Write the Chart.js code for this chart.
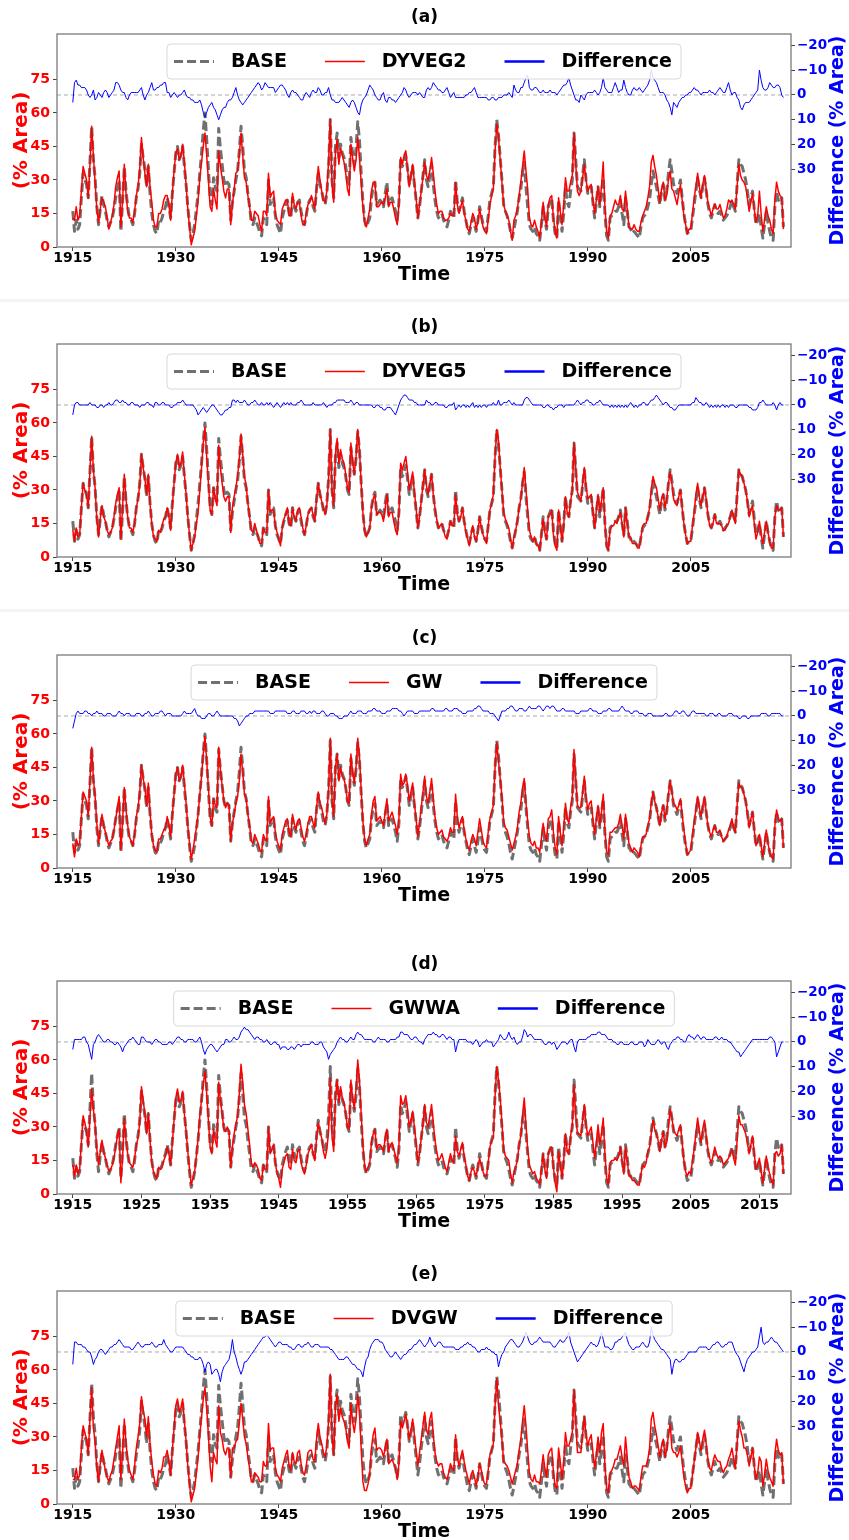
<!DOCTYPE html>
<html>
<head>
<meta charset="utf-8">
<script src="https://cdn.jsdelivr.net/npm/chart.js@4.4.0/dist/chart.umd.min.js"></script>
<style>
  html, body { margin: 0; padding: 0; background: #fff; }
  body { width: 849px; height: 1540px; position: relative; overflow: hidden; }
  .panel { position: absolute; left: 0; width: 849px; height: 290px; }
  .sep { position: absolute; left: 0; width: 849px; height: 3px; background: #f3f3f3; }
</style>
</head>
<body>
<div class="sep" style="top:299px"></div>
<div class="sep" style="top:609px"></div>
<div class="panel" style="top:0px"><canvas id="panel0" width="849" height="290"></canvas></div>
<div class="panel" style="top:310px"><canvas id="panel1" width="849" height="290"></canvas></div>
<div class="panel" style="top:621px"><canvas id="panel2" width="849" height="290"></canvas></div>
<div class="panel" style="top:947px"><canvas id="panel3" width="849" height="290"></canvas></div>
<div class="panel" style="top:1257px"><canvas id="panel4" width="849" height="290"></canvas></div>
<script>
// quarterly samples, first one January 1915
const startYear = 1915;
const perYear = 4;

// drought area of the BASE run (% area)
const base = [
  // 1915
  16, 7, 12, 8, 10, 22, 33, 30, 28, 22, 38, 54, 39, 31, 18, 10,
  // 1919
  17, 23, 19, 16, 12, 9, 11, 13, 17, 22, 26, 30, 7, 20, 36, 25,
  // 1923
  18, 13, 12, 10, 15, 22, 26, 33, 46, 40, 35, 27, 36, 24, 15, 10,
  // 1927
  7, 6, 12, 11, 13, 16, 18, 22, 18, 13, 24, 33, 42, 45, 39, 41,
  // 1931
  45, 36, 28, 18, 10, 3, 6, 10, 17, 24, 33, 42, 52, 60, 48, 35,
  // 1935
  22, 19, 31, 27, 25, 53, 44, 37, 30, 27, 29, 28, 12, 20, 25, 30,
  // 1939
  34, 43, 54, 45, 34, 31, 24, 18, 11, 10, 13, 11, 9, 6, 5, 13,
  // 1943
  11, 10, 30, 19, 21, 22, 14, 10, 8, 6, 13, 16, 19, 21, 15, 13,
  // 1947
  22, 18, 16, 20, 21, 16, 12, 10, 14, 19, 21, 22, 18, 16, 26, 33,
  // 1951
  28, 25, 21, 19, 24, 35, 57, 30, 22, 45, 51, 40, 46, 42, 40, 36,
  // 1955
  30, 28, 49, 42, 37, 44, 56, 48, 33, 20, 12, 9, 11, 13, 22, 27,
  // 1959
  29, 19, 20, 21, 20, 18, 24, 29, 19, 21, 22, 19, 16, 12, 20, 40,
  // 1963
  36, 38, 41, 35, 28, 32, 36, 28, 21, 13, 18, 25, 32, 39, 30, 27,
  // 1967
  32, 37, 28, 21, 16, 13, 14, 15, 12, 10, 9, 12, 16, 14, 13, 30,
  // 1971
  20, 16, 19, 22, 16, 12, 8, 6, 10, 13, 10, 7, 12, 18, 14, 10,
  // 1975
  8, 7, 14, 21, 24, 27, 45, 57, 50, 40, 30, 19, 16, 14, 11, 7,
  // 1979
  4, 8, 12, 16, 22, 26, 33, 38, 27, 18, 10, 8, 7, 9, 6, 5,
  // 1983
  3, 10, 18, 12, 8, 18, 20, 22, 12, 6, 4, 21, 14, 7, 15, 27,
  // 1987
  20, 18, 25, 30, 51, 39, 27, 26, 25, 32, 39, 30, 24, 26, 27, 20,
  // 1991
  13, 20, 27, 18, 24, 31, 15, 5, 3, 13, 14, 15, 16, 16, 18, 21,
  // 1995
  15, 10, 22, 16, 9, 8, 6, 7, 6, 5, 4, 9, 13, 14, 15, 18,
  // 1999
  21, 28, 34, 30, 27, 23, 19, 25, 28, 21, 25, 33, 39, 34, 28, 26,
  // 2003
  24, 27, 30, 22, 15, 10, 6, 7, 7, 13, 19, 25, 31, 26, 22, 27,
  // 2007
  31, 25, 19, 15, 13, 16, 19, 16, 15, 16, 14, 12, 13, 14, 16, 18,
  // 2011
  21, 18, 16, 28, 39, 37, 36, 33, 30, 25, 19, 22, 25, 17, 10, 12,
  // 2015
  15, 9, 4, 10, 16, 11, 7, 4, 3, 18, 25, 21, 20, 22, 9
];

// BASE minus each experiment (% area)
const diffDyveg2 = [
  3, -5, -6, -4, -4, -3, -3, -3, -2, 0, 1, 0, -2, 2, 1, -1,
  0, 1, -1, -2, -1, 1, 0, -1, -2, -5, -5, -4, -2, -1, -1, 1,
  2, 0, -1, -1, -1, -1, -1, -2, -3, 0, 2, 0, -1, -3, -5, -2,
  -2, -3, -3, -4, -4, -5, -5, -1, -1, 1, 0, -1, 0, 1, 0, 0,
  -1, -2, 0, 1, 1, 2, 2, 3, 3, 3, 2, 4, 7, 9, 7, 5,
  4, 3, 5, 6, 8, 10, 8, 6, 5, 5, 3, 2, 2, 1, -1, -3,
  0, 2, 3, 4, 3, 2, 1, 0, -1, -2, -3, -4, -5, -4, -2, -3,
  -5, -4, -3, -3, -3, -3, -1, -2, -3, -4, -4, -3, -2, 0, 1, -1,
  -2, -1, -1, 0, 1, 2, 2, 0, -1, 0, 1, -1, -2, -1, -1, -3,
  -2, 0, 0, -1, -1, -3, 0, 2, 2, 3, 3, 3, 2, 1, 2, 3,
  4, 5, 3, 2, 3, 5, 7, 8, 4, 2, 1, 0, -2, -4, -3, -2,
  0, 1, 2, 2, 0, -1, 2, 3, 1, 1, 2, 2, 3, 2, 1, 0,
  -1, -3, -2, 0, 1, 0, -1, -1, -1, 0, -1, 0, 1, 1, -2, -3,
  -2, -3, -5, -4, -3, -2, -2, -1, -1, -2, -3, -1, 1, 0, -1, 1,
  1, 1, 1, 1, 1, 0, 0, -1, -1, -2, -3, -1, 1, 1, 1, 1,
  1, 1, 2, 2, 1, 1, 2, 2, 1, 1, 1, 0, 0, 0, -1, 0,
  1, -4, -2, -1, -1, -3, -3, -5, -7, -8, -3, -2, -2, -3, -3, -2,
  -1, -1, -2, -1, -1, -1, -2, -1, -1, -1, 0, -1, -2, -3, -4, -4,
  -5, -7, -4, -2, 0, 2, 2, 3, 0, 1, 2, 0, -1, -1, -1, -1,
  -2, -1, 0, -1, -3, -7, -3, -2, -1, -1, -1, -3, -5, -3, -1, -2,
  -2, -6, -3, -1, 0, 0, -2, -3, -2, -2, -3, -2, -1, -2, -3, -4,
  -6, -10, -7, -6, -5, -3, -1, -1, -1, 0, 2, 3, 5, 8, 3, 4,
  5, 3, 2, 1, 1, 0, 0, -1, -1, -2, -3, -2, -2, -1, 0, -1,
  -1, -1, -1, -2, -1, -1, 0, -1, -2, -3, -2, -1, -1, -3, -5, -2,
  0, -1, -1, 1, 2, 5, 6, 4, 3, 3, 3, 2, 1, 0, -1, -2,
  -10, -6, -3, -2, -2, -3, -5, -4, -3, -3, -4, -4, -3, 0, 1
];

const diffDyveg5 = [
  4, 0, -1, -1, 0, 0, 0, 0, 0, 0, -1, 0, 0, 0, 1, 1,
  0, 0, 1, 0, 0, -1, 0, 0, -1, -2, -2, -1, -1, -2, -1, -1,
  0, 0, -1, -1, 0, 0, 0, 1, 0, 0, 0, -1, -1, 0, 0, 1,
  -1, -1, 0, 0, -1, -1, 0, 0, 0, 1, 1, 0, 0, -1, -1, -1,
  -2, -1, 0, 0, 0, 0, 0, 1, 2, 4, 3, 2, 1, 2, 3, 2,
  1, 0, 0, 1, 2, 3, 4, 4, 3, 2, 2, 1, 1, -2, -2, -1,
  -2, -1, -1, -1, -2, -1, 0, 0, -1, -1, -2, -1, 0, 0, -1, 0,
  0, -1, 0, -1, 0, 1, 0, -1, 0, 1, 0, -1, 0, -1, 0, -1,
  0, 0, 0, -1, -1, -2, -1, 0, 0, 0, 0, 0, -1, 0, 0, 0,
  0, 0, -1, 0, 1, 0, 0, 0, -1, -1, -2, -2, -2, -2, -2, -1,
  -1, -1, -2, -1, 0, -1, -1, 0, 0, 0, 0, 0, 0, 0, 0, 1,
  1, 0, 0, 1, 1, 2, 2, 1, 1, 1, 2, 3, 4, 2, 0, -2,
  -3, -4, -4, -3, -2, -2, -2, -1, -1, 0, 0, 0, 0, 0, -2, -1,
  -1, 0, 0, -1, -1, 0, 0, 0, 0, 1, 1, 0, 0, 0, -1, 2,
  1, 0, 1, 0, 0, 1, 0, 1, 0, -1, 1, 0, 1, 0, 1, 0,
  0, 1, 0, 0, 0, -1, 0, 0, -2, 0, 0, -1, -1, -1, -2, -1,
  0, -1, 0, 0, 0, 0, 0, -2, -3, -3, -2, -1, 0, 0, 0, 0,
  0, 0, 1, 1, 0, 0, 1, 1, 2, 1, 1, 0, 0, 0, 1, 0,
  0, 0, 0, 0, 0, -1, -2, -1, 0, -1, -1, -2, -2, -1, -1, 0,
  0, -1, -1, -2, -1, 0, 0, 0, 0, 1, 0, 1, 0, 1, 0, 1,
  0, 1, 0, 1, 0, -1, 0, 1, 0, 1, 0, 0, -1, -1, 0, 0,
  -1, -2, -2, -3, -4, -3, -2, -1, 0, -1, -1, 0, 1, 1, 2, 2,
  1, 0, 0, 0, 0, 0, 0, 0, 0, -1, -1, -3, -2, -1, -1, 0,
  0, -1, 0, 1, 0, 1, 0, 1, 0, 1, 0, 0, 1, 0, 1, 0,
  0, 0, 1, 1, 0, 0, 0, 0, 0, 0, 1, 1, 2, 2, 2, 1,
  -1, -1, -2, -1, 0, 0, 0, 0, -1, 0, 2, 0, -1, 0, 0
];

const diffGw = [
  5, 2, -1, -2, -1, -1, -1, -2, -2, -1, -1, 0, -1, -1, -2, -1,
  -1, -1, 0, 0, -1, -1, -1, 0, 0, 0, -1, -2, -1, -1, 0, -1,
  -1, -1, 0, 0, 0, -1, -1, -1, 0, 0, -1, -1, -2, -1, 0, 0,
  -1, -1, -1, -2, -2, -1, 0, -1, -1, -1, 0, 0, 0, 0, 0, 0,
  -1, -2, -1, -1, -1, -1, -2, -3, -1, 0, 0, 1, 1, 1, 0, -1,
  -1, 0, 0, -1, -2, -1, 0, 0, 0, 0, 0, 0, 0, 0, 1, 1,
  2, 4, 3, 2, 1, 0, 0, -1, -1, -1, -2, -2, -2, -2, -2, -2,
  -2, -2, -2, -1, -1, -1, -2, -2, -2, -2, -2, -2, -2, -1, -1, -1,
  -2, -2, -1, -1, -1, -2, -2, -2, -1, -1, -2, -1, -2, -2, -1, -1,
  -1, -2, -2, -1, 0, 0, -1, -1, -1, 0, 0, 1, 1, 1, 0, 0,
  0, -1, -2, -1, -1, -1, -2, -2, -2, -1, -1, -1, -2, -2, -2, -3,
  -3, -2, -2, -2, -1, -1, -1, -2, -2, -2, -3, -3, -3, -3, -2, -2,
  -1, 0, -1, -2, -2, -2, -2, -1, -1, -1, -2, -2, -2, -2, -2, -2,
  -2, -3, -3, -2, -2, -2, -2, -2, -2, -3, -3, -2, -2, -2, -3, -3,
  -3, -2, -2, -1, -1, -1, -2, -2, -2, -2, -3, -3, -4, -4, -3, -2,
  -2, -2, -2, -1, -1, -1, 0, 1, 2, 0, -2, -2, -2, -3, -3, -4,
  -4, -3, -2, -2, -3, -3, -3, -2, -2, -3, -4, -3, -3, -3, -3, -4,
  -4, -3, -2, -3, -4, -4, -3, -4, -4, -3, -2, -2, -2, -3, -3, -2,
  -2, -2, -2, -2, -2, -1, -1, -1, -2, -2, -2, -2, -2, -3, -3, -2,
  -2, -2, -1, -1, -1, -2, -2, -2, -3, -3, -2, -2, -2, -2, -2, -3,
  -4, -3, -2, -2, -2, -1, -1, -2, -2, -2, -1, -1, -1, 0, 0, -1,
  -1, -1, 0, 0, 0, 0, 0, 0, 0, -1, -1, 0, 0, 0, -1, -2,
  -2, -1, -1, -2, -2, -1, 0, 0, -1, -2, -2, -1, -1, -1, -1, -1,
  -1, 0, 0, -1, -1, -1, 0, 0, -1, -1, 0, 0, 0, 0, -1, -1,
  -1, 0, 0, 0, 1, 1, 0, 0, 0, 1, 1, 0, 0, 0, 0, 0,
  0, -1, -1, -1, -1, 0, 0, -1, -1, -1, -1, -1, -1, 0, 0
];

const diffGwwa = [
  3, -1, -1, -1, -1, -1, -2, -2, 0, 1, 4, 7, 1, 0, -2, -3,
  -2, -1, 0, 0, -1, -1, 0, 0, 1, 1, 0, 1, 2, 4, 2, 1,
  0, -1, -1, -2, -1, 0, 1, 1, -2, -2, -1, 0, 0, 0, 1, 0,
  -1, -1, 0, 0, 1, 1, 1, 1, 0, 0, 1, 0, -1, -2, -2, -1,
  -1, 0, 0, -1, -1, -1, -1, 0, 0, -1, -2, 0, 3, 5, 3, 2,
  1, 1, 2, 3, 4, 3, 2, 1, 1, -1, -1, 0, 0, -1, -2, -1,
  -1, -2, -4, -5, -6, -5, -5, -4, -3, -2, -1, -2, -2, -1, -1, 0,
  0, -1, 0, 1, 1, 0, 0, 1, 1, 3, 2, 2, 2, 3, 3, 2,
  2, 3, 2, 1, 1, 2, 1, 1, 1, 1, 1, 0, 0, 1, 1, 1,
  0, 0, 2, 3, 4, 7, 5, 4, 3, 2, 0, -1, -2, -1, -1, 0,
  0, -1, -2, -1, -1, -3, -4, -3, -3, -2, -1, -1, -1, -1, -1, 0,
  0, -1, -2, -1, -1, -1, -1, 0, 0, -1, -1, -1, -1, -2, -2, -4,
  -4, -3, -3, -3, -2, -1, -1, -2, -2, -1, 0, 0, 1, -1, -2, -3,
  -3, -3, -4, -3, -3, -2, -2, -3, -3, -2, -1, -2, -2, -1, -1, 4,
  1, -1, -1, -1, -1, -1, 0, 0, 0, 1, 0, -1, 0, 2, 1, 0,
  0, -1, 0, 0, 0, 2, 1, 0, -1, -3, -2, -1, -1, -2, -4, -2,
  -1, -2, 0, 1, 0, 0, -2, -5, -4, -2, -3, -3, -2, -1, -1, -1,
  -1, -1, 0, 1, 1, 0, 0, 1, 0, 1, 3, 2, 1, 0, 0, 0,
  1, 0, -1, -1, 2, 4, 0, -1, -1, -1, -1, -1, -2, -2, -3, -3,
  -3, -3, -4, -4, -3, -3, -3, -2, -1, -1, -1, 0, 0, 1, 1, 0,
  0, 1, 1, 1, 1, 0, 0, 1, 1, 1, 0, 0, 0, 2, 1, -1,
  0, 1, 1, 1, 0, -1, 0, 1, 0, 0, 2, 3, 1, 0, -1, -1,
  -2, -2, -1, -1, 0, 0, -2, -3, -2, -2, -1, -2, -3, -2, -1, -2,
  -2, -1, -1, -1, -1, -1, -2, -2, -1, -1, -2, -1, -1, -1, 0, 0,
  1, 2, 3, 4, 4, 6, 5, 4, 3, 2, 1, 0, -1, -1, -1, -1,
  -1, -1, -1, -1, -1, -1, -2, -2, -1, 0, 6, 4, 2, 0, 0
];

const diffDvgw = [
  5, -4, -4, -3, -3, -3, -2, -2, -1, 0, 0, 2, 5, 3, 2, 0,
  -1, -1, 0, 1, 0, -1, -2, -2, -3, -3, -4, -5, -4, -3, -2, -2,
  -2, -2, -1, -1, -2, -3, -4, -3, -2, -2, -3, -3, -3, -3, -4, -3,
  -2, -2, -3, -3, -3, -5, -3, -2, -1, 0, 0, -1, -2, -2, -2, -2,
  -2, -1, 0, 1, 1, 2, 2, 3, 3, 3, 2, 3, 5, 8, 5, 4,
  5, 9, 8, 7, 7, 9, 12, 8, 6, 5, 4, 3, 0, -5, 0, 2,
  5, 7, 9, 7, 4, 4, 3, 2, 1, 0, -1, -2, -3, -4, -5, -6,
  -6, -7, -6, -5, -4, -3, -2, -3, -4, -4, -3, -3, -3, -3, -2, -2,
  -1, -1, -2, -3, -3, -2, -2, -3, -3, -4, -3, -2, -2, -3, -3, -3,
  -2, -2, -2, -2, -2, -2, -1, -1, 0, 1, 2, 3, 3, 3, 3, 2,
  2, 3, 4, 5, 5, 6, 7, 7, 8, 10, 6, 3, 2, -1, -3, -4,
  -5, -5, -5, -4, -4, -3, -1, 0, 1, 2, 2, 1, 0, 1, 2, 3,
  2, 1, 1, 0, -1, -1, -2, -3, -3, -4, -5, -4, -3, -2, -3, -4,
  -6, -4, -3, -2, -3, -4, -4, -3, -2, -2, -2, -2, -2, -2, -2, -1,
  -1, -1, -2, -2, -3, -3, -4, -3, -3, -2, -2, -1, 0, 0, -1, -1,
  -1, -2, -1, -1, 0, 0, 1, 1, 6, 3, 1, 0, -2, -3, -4, -5,
  -5, -4, -3, -2, -2, -3, -4, -6, -8, -6, -4, -3, -3, -4, -4, -5,
  -6, -5, -4, -4, -4, -4, -4, -3, -2, -2, -3, -4, -5, -4, -4, -5,
  -6, -8, -4, -2, 0, 2, 4, 3, 2, 1, 0, -1, -2, -3, -4, -3,
  -3, -2, -3, -5, -8, -5, -2, -2, -2, -1, -1, -2, -4, -4, -5, -5,
  -6, -7, -8, -5, -3, -2, -1, -1, -2, -2, -2, -3, -4, -3, -2, -2,
  -4, -10, -7, -5, -4, -3, -2, -1, -1, 0, 1, 2, 3, 9, 5, 3,
  3, 4, 4, 3, 3, 2, 1, 0, 0, 0, 0, 0, -1, -2, -2, -2,
  -2, -2, -1, -1, -2, -3, -3, -4, -4, -3, -2, -2, -3, -3, -4, -4,
  -4, -2, 0, 1, 2, 4, 6, 8, 5, 3, 2, 1, 0, 0, -1, -2,
  -6, -10, -4, -3, -4, -4, -5, -6, -5, -4, -4, -3, -2, -1, 0
];

const panelTitles = ['(a)', '(b)', '(c)', '(d)', '(e)'];
const experimentNames = ['DYVEG2', 'DYVEG5', 'GW', 'GWWA', 'DVGW'];
const experimentDiffs = [diffDyveg2, diffDyveg5, diffGw, diffGwwa, diffDvgw];

const yearTicks15 = [1915, 1930, 1945, 1960, 1975, 1990, 2005];
const yearTicks10 = [1915, 1925, 1935, 1945, 1955, 1965, 1975, 1985, 1995, 2005, 2015];
const panelYearTicks = [yearTicks15, yearTicks15, yearTicks15, yearTicks10, yearTicks15];
const areaTicks = [0, 15, 30, 45, 60, 75];
const diffTicks = [-20, -10, 0, 10, 20, 30];

const xMin = 1912.7, xMax = 2019.6;
const FONT = '"DejaVu Sans", "Liberation Sans", sans-serif';

Chart.defaults.font.family = FONT;
Chart.defaults.font.weight = 'bold';

// experiment = BASE - difference
const experimentFrom = (diffs) => base.map((v, i) => v - diffs[i]);
const toPoints = (vals) => vals.map((v, i) => ({ x: startYear + i / perYear, y: v }));

// frame, right-hand axis label and the legend box inside the plot
const panelDecor = {
  id: 'panelDecor',
  afterDatasetsDraw(chart) {
    const { ctx, chartArea: a } = chart;
    ctx.save();
    ctx.strokeStyle = '#7a7a7a';
    ctx.lineWidth = 1.3;
    ctx.strokeRect(a.left, a.top, a.right - a.left, a.bottom - a.top);
    ctx.restore();
  },
  afterDraw(chart) {
    const { ctx, chartArea: a } = chart;
    ctx.save();
    ctx.translate(838.5, (a.top + a.bottom) / 2);
    ctx.rotate(-Math.PI / 2);
    ctx.font = 'bold 19px ' + FONT;
    ctx.fillStyle = '#0000ff';
    ctx.textAlign = 'center';
    ctx.textBaseline = 'middle';
    ctx.fillText('Difference (% Area)', 0, 0);
    ctx.restore();

    const items = chart.data.datasets.filter(d => !d.noLegend);
    ctx.save();
    ctx.font = 'bold 19px ' + FONT;
    const handle = 40, gap = 17, colGap = 38, padL = 7, padR = 9, h = 35;
    const widths = items.map(d => ctx.measureText(d.label).width);
    const total = padL + padR + widths.reduce((s, w) => s + handle + gap + w, 0) + colGap * (items.length - 1);
    const x0 = (a.left + a.right) / 2 - total / 2;
    const y0 = a.top + 10;
    ctx.beginPath();
    ctx.roundRect(x0, y0, total, h, 4);
    ctx.fillStyle = 'rgba(255,255,255,0.85)';
    ctx.fill();
    ctx.strokeStyle = '#d8d8d8';
    ctx.lineWidth = 1;
    ctx.stroke();
    const cy = y0 + h / 2;
    let x = x0 + padL;
    items.forEach((d, i) => {
      ctx.beginPath();
      ctx.setLineDash(d.borderDash || []);
      ctx.strokeStyle = d.borderColor;
      ctx.lineWidth = d.legendWidth || d.borderWidth;
      ctx.moveTo(x, cy);
      ctx.lineTo(x + handle, cy);
      ctx.stroke();
      ctx.setLineDash([]);
      ctx.fillStyle = '#000';
      ctx.textAlign = 'left';
      ctx.textBaseline = 'middle';
      ctx.fillText(d.label, x + handle + gap, cy + 1);
      x += handle + gap + widths[i] + colGap;
    });
    ctx.restore();
  }
};

const tickMarks = { display: true, drawOnChartArea: false, drawTicks: true, tickLength: 4, color: '#444', lineWidth: 1 };

function buildPanel(idx) {
  const diffs = experimentDiffs[idx];
  const years = panelYearTicks[idx];
  new Chart(document.getElementById('panel' + idx), {
    type: 'line',
    data: {
      datasets: [
        { label: 'BASE', data: toPoints(base), yAxisID: 'y', borderColor: '#707070', borderWidth: 3,
          borderDash: [9, 4], order: 3 },
        { label: experimentNames[idx], data: toPoints(experimentFrom(diffs)), yAxisID: 'y',
          borderColor: '#ff0000', borderWidth: 1.5, legendWidth: 1.5, order: 2 },
        { label: 'Difference', data: toPoints(diffs), yAxisID: 'y2', borderColor: '#0000ff',
          borderWidth: 1, legendWidth: 2.5, order: 1 },
        { label: 'zero', data: [{ x: xMin, y: 0 }, { x: xMax, y: 0 }], yAxisID: 'y2', noLegend: true,
          borderColor: '#a8a8a8', borderWidth: 1, borderDash: [4, 3], order: 4 }
      ]
    },
    options: {
      responsive: false,
      animation: false,
      events: [],
      layout: { padding: 0 },
      elements: { point: { radius: 0 }, line: { tension: 0, borderJoinStyle: 'round' } },
      plugins: {
        legend: { display: false },
        tooltip: { enabled: false },
        title: { display: true, text: panelTitles[idx], color: '#000',
                 font: { size: 17, weight: 'bold' }, padding: { top: 7, bottom: 6.6 } }
      },
      scales: {
        x: {
          type: 'linear', min: xMin, max: xMax,
          afterBuildTicks: s => { s.ticks = years.map(v => ({ value: v })); },
          afterFit: s => { s.height = 43; },
          grid: tickMarks, border: { display: false },
          ticks: { color: '#000', font: { size: 14, weight: 'bold', lineHeight: 1 }, padding: 0,
                   maxRotation: 0, autoSkip: false, callback: v => String(v) },
          title: { display: true, text: 'Time', color: '#000', font: { size: 19, weight: 'bold' },
                   padding: { top: 0, bottom: 3.6 } }
        },
        y: {
          position: 'left', min: 0, max: 95.3,
          afterBuildTicks: s => { s.ticks = areaTicks.map(v => ({ value: v })); },
          afterFit: s => { s.width = 57; },
          grid: tickMarks, border: { display: false },
          ticks: { color: '#ff0000', font: { size: 14, weight: 'bold' }, padding: 3 },
          title: { display: true, text: '(% Area)', color: '#ff0000', font: { size: 20, weight: 'bold' },
                   padding: { top: 10, bottom: 0 } }
        },
        y2: {
          position: 'right', reverse: true, min: -24.6, max: 61.3,
          afterBuildTicks: s => { s.ticks = diffTicks.map(v => ({ value: v })); },
          afterFit: s => { s.width = 58; },
          grid: tickMarks, border: { display: false },
          ticks: { color: '#0000ff', font: { size: 13.5, weight: 'bold' }, padding: 2,
                   callback: v => (v < 0 ? '\u2212' + Math.abs(v) : String(v)) }
        }
      }
    },
    plugins: [panelDecor]
  });
}

for (let i = 0; i < 5; i++) buildPanel(i);
</script>
</body>
</html>
